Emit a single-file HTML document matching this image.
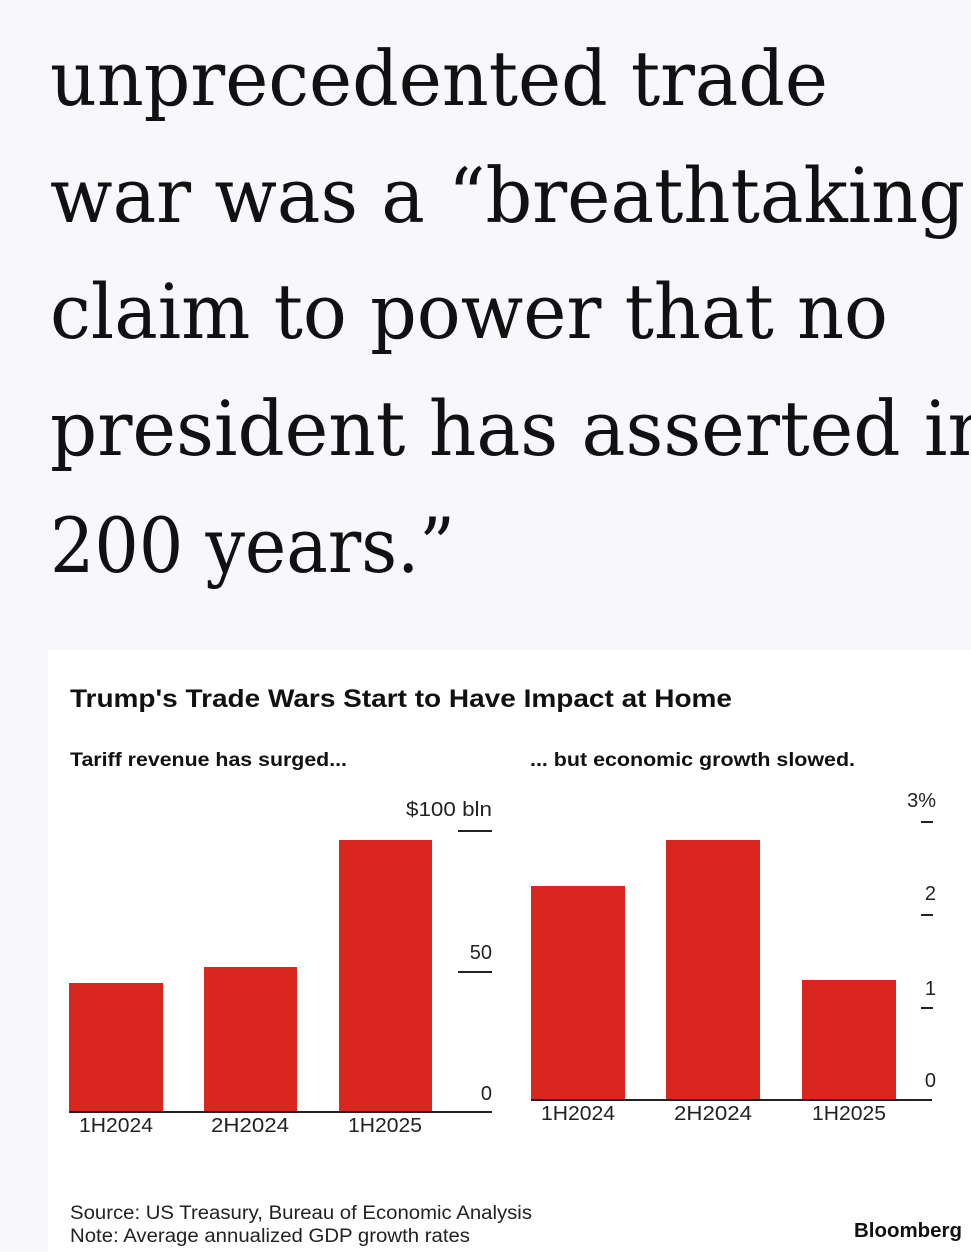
<!DOCTYPE html>
<html><head><style>
html,body{margin:0;padding:0;background:#f7f7fc;}
svg{display:block}
</style></head><body>
<svg width="971" height="1252" xmlns="http://www.w3.org/2000/svg">
<rect width="971" height="1252" fill="#f7f7fc"/>
<g font-family="'DejaVu Serif', 'Liberation Serif', serif" font-size="76" fill="#111">
<text x="50" y="105" textLength="778" lengthAdjust="spacingAndGlyphs">unprecedented trade</text>
<text x="50" y="222" textLength="915" lengthAdjust="spacingAndGlyphs">war was a “breathtaking</text>
<text x="50" y="338" textLength="838" lengthAdjust="spacingAndGlyphs">claim to power that no</text>
<text x="50" y="455" textLength="945" lengthAdjust="spacingAndGlyphs">president has asserted in</text>
<text x="50" y="572" textLength="405" lengthAdjust="spacingAndGlyphs">200 years.”</text>
</g>
<rect x="48" y="650" width="923" height="602" fill="#fff"/>
<g font-family="'Liberation Sans', sans-serif" fill="#111">
<text x="70" y="707" font-size="25" font-weight="bold" textLength="662" lengthAdjust="spacingAndGlyphs">Trump's Trade Wars Start to Have Impact at Home</text>
<text x="70" y="766" font-size="19" font-weight="bold" textLength="277" lengthAdjust="spacingAndGlyphs">Tariff revenue has surged...</text>
<text x="530" y="766" font-size="19" font-weight="bold" textLength="325" lengthAdjust="spacingAndGlyphs">... but economic growth slowed.</text>
</g>
<g fill="#d9261f">
<rect x="69" y="983" width="94" height="129"/>
<rect x="204" y="967" width="93" height="145"/>
<rect x="339" y="840" width="93" height="272"/>
<rect x="531" y="886" width="94" height="214"/>
<rect x="666" y="840" width="94" height="260"/>
<rect x="802" y="980" width="94" height="120"/>
</g>
<g stroke="#222" stroke-width="2">
<line x1="69" y1="1112" x2="492" y2="1112"/>
<line x1="458" y1="831" x2="492" y2="831"/>
<line x1="458" y1="972" x2="492" y2="972"/>
<line x1="531" y1="1100" x2="932" y2="1100"/>
<line x1="921" y1="822" x2="933" y2="822"/>
<line x1="921" y1="915" x2="933" y2="915"/>
<line x1="921" y1="1008" x2="933" y2="1008"/>
</g>
<g font-family="'Liberation Sans', sans-serif" font-size="20" fill="#222">
<text x="492" y="816" text-anchor="end" textLength="86" lengthAdjust="spacingAndGlyphs">$100 bln</text>
<text x="492" y="959" text-anchor="end">50</text>
<text x="492" y="1100" text-anchor="end">0</text>
<text x="116" y="1132" text-anchor="middle" textLength="74" lengthAdjust="spacingAndGlyphs">1H2024</text>
<text x="250" y="1132" text-anchor="middle" textLength="78" lengthAdjust="spacingAndGlyphs">2H2024</text>
<text x="385" y="1132" text-anchor="middle" textLength="74" lengthAdjust="spacingAndGlyphs">1H2025</text>
<text x="936" y="807" text-anchor="end">3%</text>
<text x="936" y="900" text-anchor="end">2</text>
<text x="936" y="995" text-anchor="end">1</text>
<text x="936" y="1087" text-anchor="end">0</text>
<text x="578" y="1120" text-anchor="middle" textLength="74" lengthAdjust="spacingAndGlyphs">1H2024</text>
<text x="713" y="1120" text-anchor="middle" textLength="78" lengthAdjust="spacingAndGlyphs">2H2024</text>
<text x="849" y="1120" text-anchor="middle" textLength="74" lengthAdjust="spacingAndGlyphs">1H2025</text>
<text x="70" y="1219" font-size="19" textLength="462" lengthAdjust="spacingAndGlyphs">Source: US Treasury, Bureau of Economic Analysis</text>
<text x="70" y="1242" font-size="19" textLength="400" lengthAdjust="spacingAndGlyphs">Note: Average annualized GDP growth rates</text>
<text x="962" y="1237" font-size="20" font-weight="bold" text-anchor="end" fill="#111" textLength="108" lengthAdjust="spacingAndGlyphs">Bloomberg</text>
</g>
</svg>
</body></html>
